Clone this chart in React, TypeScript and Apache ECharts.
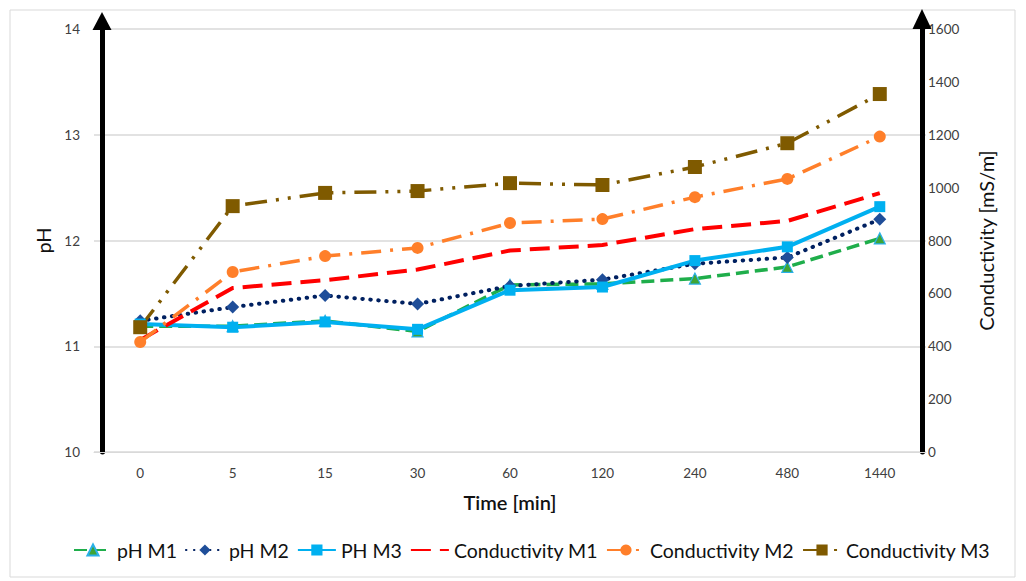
import React, { useEffect, useRef } from "react";
import * as echarts from "echarts";

const categories = ["0", "5", "15", "30", "60", "120", "240", "480", "1440"];
const phM1 = [11.19, 11.19, 11.24, 11.14, 11.58, 11.59, 11.64, 11.75, 12.02];
const phM2 = [11.24, 11.37, 11.48, 11.4, 11.57, 11.63, 11.78, 11.84, 12.2];
const phM3 = [11.21, 11.18, 11.23, 11.16, 11.53, 11.56, 11.81, 11.94, 12.32];
const condM1 = [424, 620, 650, 690, 762, 783, 843, 874, 979];
const condM2 = [416, 681, 741, 772, 866, 881, 964, 1033, 1193];
const condM3 = [472, 930, 980, 987, 1017, 1010, 1078, 1168, 1354];
const seriesNames = ["pH M1", "pH M2", "PH M3", "Conductivity M1", "Conductivity M2", "Conductivity M3"];

const FONT = "Lato";

export default function App() {
  const ref = useRef<HTMLDivElement>(null);
  useEffect(() => {
    document.body.style.margin = "0";
    const chart = echarts.init(ref.current!, null, { renderer: "svg" });
    const axisLineStyle = { color: "#000", width: 5 };
    chart.setOption({
      animation: false,
      backgroundColor: "#fff",
      textStyle: { fontFamily: FONT },
      graphic: [
        {
          type: "rect",
          shape: { x: 10, y: 10, width: 1005, height: 567 },
          style: { fill: "none", stroke: "#d9d9d9", lineWidth: 1 },
          silent: true,
        },
      ],
      grid: { left: 94, right: 100, top: 29, bottom: 129, containLabel: false },
      legend: {
        left: 68,
        top: 535,
        itemWidth: 38,
        itemHeight: 14,
        itemGap: 8,
        textStyle: { fontFamily: FONT, fontSize: 19.5, color: "#111" },
        data: seriesNames.map((n, i) =>
          i === 3 ? { name: n, itemStyle: { opacity: 0 } } : { name: n }
        ),
      },
      xAxis: {
        type: "category",
        data: categories,
        boundaryGap: true,
        axisLine: { lineStyle: { color: "#d9d9d9", width: 1 } },
        axisTick: { show: false },
        axisLabel: { color: "#404040", fontSize: 13.5, margin: 14, fontFamily: FONT },
        name: "Time [min]",
        nameLocation: "middle",
        nameGap: 40,
        nameTextStyle: { fontSize: 20, color: "#111", fontFamily: FONT, fontWeight: 600 },
      },
      yAxis: [
        {
          type: "value",
          min: 10,
          max: 14,
          interval: 1,
          position: "left",
          offset: -8,
          axisLine: {
            show: true,
            lineStyle: axisLineStyle,
            symbol: ["none", "triangle"],
            symbolSize: [19, 18],
            symbolOffset: [0, 8],
          },
          axisTick: { show: false },
          axisLabel: { color: "#404040", fontSize: 13.5, margin: 22, fontFamily: FONT },
          splitLine: { lineStyle: { color: "#d9d9d9", width: 1.5 } },
          name: "pH",
          nameLocation: "middle",
          nameGap: 46,
          nameRotate: 90,
          nameTextStyle: { fontSize: 20, color: "#111", fontFamily: FONT },
        },
        {
          type: "value",
          min: 0,
          max: 1600,
          interval: 200,
          position: "right",
          offset: -4,
          axisLine: {
            show: true,
            lineStyle: axisLineStyle,
            symbol: ["none", "triangle"],
            symbolSize: [19, 20],
            symbolOffset: [0, 10],
          },
          axisTick: { show: false },
          axisLabel: {
            color: "#404040",
            fontSize: 13.5,
            margin: 6,
            fontFamily: FONT,
            formatter: (v: number) => String(v),
          },
          splitLine: { show: false },
          name: "Conductivity [mS/m]",
          nameLocation: "middle",
          nameGap: 54,
          nameRotate: 90,
          nameTextStyle: { fontSize: 20, color: "#111", fontFamily: FONT },
        },
      ],
      series: [
        {
          name: seriesNames[0],
          type: "line",
          yAxisIndex: 0,
          data: phM1,
          symbol: "triangle",
          symbolSize: 11,
          lineStyle: { color: "#1fae4b", width: 3.5, type: [13, 6] },
          itemStyle: { color: "#3fa535", borderColor: "#2ab0e8", borderWidth: 1.2 },
        },
        {
          name: seriesNames[1],
          type: "line",
          yAxisIndex: 0,
          data: phM2,
          symbol: "diamond",
          symbolSize: 13,
          lineStyle: { color: "#002060", width: 4, type: [0.5, 7.5], cap: "round" },
          itemStyle: { color: "#1f4e99" },
        },
        {
          name: seriesNames[2],
          type: "line",
          yAxisIndex: 0,
          data: phM3,
          symbol: "rect",
          symbolSize: 11,
          lineStyle: { color: "#00b0f0", width: 4, type: "solid" },
          itemStyle: { color: "#00b0f0" },
        },
        {
          name: seriesNames[3],
          type: "line",
          yAxisIndex: 1,
          data: condM1,
          symbol: "none",
          lineStyle: { color: "#ff0000", width: 4, type: [20, 9] },
          itemStyle: { color: "#ff0000" },
        },
        {
          name: seriesNames[4],
          type: "line",
          yAxisIndex: 1,
          data: condM2,
          symbol: "circle",
          symbolSize: 12,
          lineStyle: { color: "#ff7f2a", width: 3.5, type: [20, 9, 3, 9] },
          itemStyle: { color: "#ff7f2a" },
        },
        {
          name: seriesNames[5],
          type: "line",
          yAxisIndex: 1,
          data: condM3,
          symbol: "rect",
          symbolSize: 14,
          lineStyle: { color: "#7f5a00", width: 3.5, type: [22, 9, 3, 9, 3, 9] },
          itemStyle: { color: "#7f5a00" },
        },
      ],
    });
    return () => chart.dispose();
  }, []);
  return <div ref={ref} style={{ width: 1026, height: 581 }} />;
}
